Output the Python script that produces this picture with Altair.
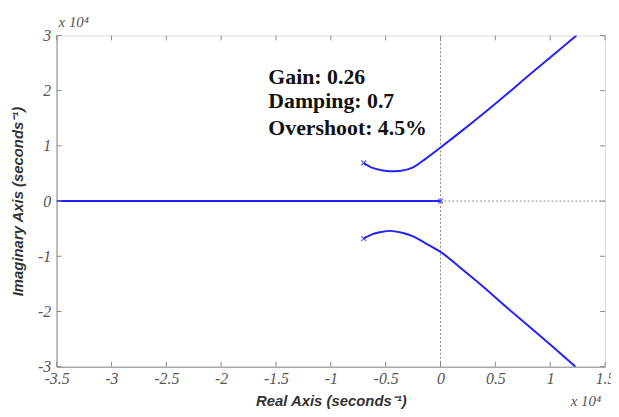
import altair as alt
import pandas as pd

# Root-locus branches (units of 1e4 s^-1)
upper_x = [-0.70, -0.62, -0.54, -0.46, -0.36, -0.25, -0.14, 0.0, 0.20, 0.40, 0.60, 0.80, 1.00, 1.24]
upper_y = [0.69, 0.60, 0.56, 0.54, 0.55, 0.61, 0.76, 0.97, 1.28, 1.60, 1.93, 2.27, 2.60, 3.0]
lower_x = [-0.70, -0.62, -0.54, -0.46, -0.36, -0.25, -0.14, 0.0, 0.20, 0.40, 0.60, 0.80, 1.00, 1.23]
lower_y = [-0.68, -0.60, -0.56, -0.54, -0.57, -0.64, -0.76, -0.92, -1.24, -1.57, -1.92, -2.26, -2.60, -3.0]
real_x = [-3.5, 0.0]
real_y = [0.0, 0.0]

pole_x = [-0.70, -0.70, 0.0]
pole_y = [0.69, -0.68, 0.0]

x_ticks = [-3.5, -3, -2.5, -2, -1.5, -1, -0.5, 0, 0.5, 1, 1.5]
y_ticks = [-3, -2, -1, 0, 1, 2, 3]

notes = ["Gain: 0.26", "Damping: 0.7", "Overshoot: 4.5%"]
note_y = [2.24, 1.81, 1.33]
note_x = -1.57

W, H = 553, 334
BLUE = "#2222ff"
GRAY = "#8a8a8a"

rows = []
for name, xs, ys in [("upper", upper_x, upper_y), ("lower", lower_x, lower_y), ("real", real_x, real_y)]:
    for i, (a, b) in enumerate(zip(xs, ys)):
        rows.append({"branch": name, "i": i, "re": a, "im": b})
lines_df = pd.DataFrame(rows)
poles_df = pd.DataFrame({"re": pole_x, "im": pole_y})
notes_df = pd.DataFrame({"t": notes, "im": note_y, "re": [note_x] * 3})
xt_df = pd.DataFrame({"v": x_ticks})
yt_df = pd.DataFrame({"v": y_ticks})

xscale = alt.Scale(domain=[-3.5, 1.5], nice=False, zero=False)
yscale = alt.Scale(domain=[-3, 3], nice=False, zero=False)

common_axis = dict(ticks=False, grid=False, labelExpr="'' + datum.value",
                   labelFont="Liberation Serif", labelFontStyle="italic", labelFontSize=16,
                   labelColor="#555555", labelFlush=False, labelOverlap=False,
                   titleFont="Liberation Sans", titleFontStyle="italic",
                   titleFontWeight="bold", titleFontSize=15, titleColor="#333333",
                   domainColor=GRAY)
xaxis = alt.Axis(values=x_ticks, labelPadding=4, title="Real Axis (seconds⁻¹)",
                 titlePadding=7, **common_axis)
yaxis = alt.Axis(values=y_ticks, labelPadding=6, title="Imaginary Axis (seconds⁻¹)",
                 titleX=-39, titleY=H / 2, titleAngle=-90, titleBaseline="middle",
                 titleAlign="center", **common_axis)

dotted_v = alt.Chart(pd.DataFrame({"re": [0.0]})).mark_rule(
    color=GRAY, strokeDash=[2, 2], strokeWidth=1).encode(
    x=alt.X("re:Q", scale=xscale, axis=xaxis))
dotted_h = alt.Chart(pd.DataFrame({"im": [0.0]})).mark_rule(
    color=GRAY, strokeDash=[2, 2], strokeWidth=1).encode(
    y=alt.Y("im:Q", scale=yscale, axis=yaxis))

lines = alt.Chart(lines_df).mark_line(color=BLUE, strokeWidth=2, clip=True,
                                      interpolate="monotone").encode(
    x=alt.X("re:Q", scale=xscale),
    y=alt.Y("im:Q", scale=yscale),
    detail="branch:N",
    order="i:Q",
)

poles = alt.Chart(poles_df).mark_point(
    shape="M-1,-1L1,1M-1,1L1,-1", filled=False, color=BLUE, size=25, strokeWidth=1.3).encode(
    x=alt.X("re:Q", scale=xscale), y=alt.Y("im:Q", scale=yscale))

text = alt.Chart(notes_df).mark_text(
    align="left", baseline="middle", font="Liberation Serif", fontWeight="bold",
    fontSize=22, color="#111111").encode(
    x=alt.X("re:Q", scale=xscale), y=alt.Y("im:Q", scale=yscale), text="t:N")

tick_style = dict(color=GRAY, strokeWidth=1)
xt_bottom = alt.Chart(xt_df).mark_rule(**tick_style).encode(
    x=alt.X("v:Q", scale=xscale), y=alt.value(H), y2=alt.value(H - 5))
xt_top = alt.Chart(xt_df).mark_rule(**tick_style).encode(
    x=alt.X("v:Q", scale=xscale), y=alt.value(0), y2=alt.value(5))
yt_left = alt.Chart(yt_df).mark_rule(**tick_style).encode(
    y=alt.Y("v:Q", scale=yscale), x=alt.value(0), x2=alt.value(5))
yt_right = alt.Chart(yt_df).mark_rule(**tick_style).encode(
    y=alt.Y("v:Q", scale=yscale), x=alt.value(W), x2=alt.value(W - 5))

exp_style = dict(font="Liberation Serif", fontStyle="italic", fontSize=15, color="#555555")
exp_top = alt.Chart(pd.DataFrame({"t": ["x 10⁴"]})).mark_text(
    align="left", baseline="middle", **exp_style).encode(
    x=alt.value(2), y=alt.value(-14), text="t:N")
exp_bottom = alt.Chart(pd.DataFrame({"t": ["x 10⁴"]})).mark_text(
    align="right", baseline="middle", **exp_style).encode(
    x=alt.value(W - 4), y=alt.value(H + 35), text="t:N")

chart = alt.layer(
    dotted_v, dotted_h, lines, poles, text,
    xt_bottom, xt_top, yt_left, yt_right, exp_top, exp_bottom,
).properties(
    width=W, height=H,
    autosize=alt.AutoSizeParams(type="none"),
    padding={"left": 49, "top": 26, "right": 6, "bottom": 42},
).configure_view(stroke=GRAY, strokeWidth=1.2).configure(background="white")

chart.save("out.html", embed_options={"renderer": "svg", "actions": False})
